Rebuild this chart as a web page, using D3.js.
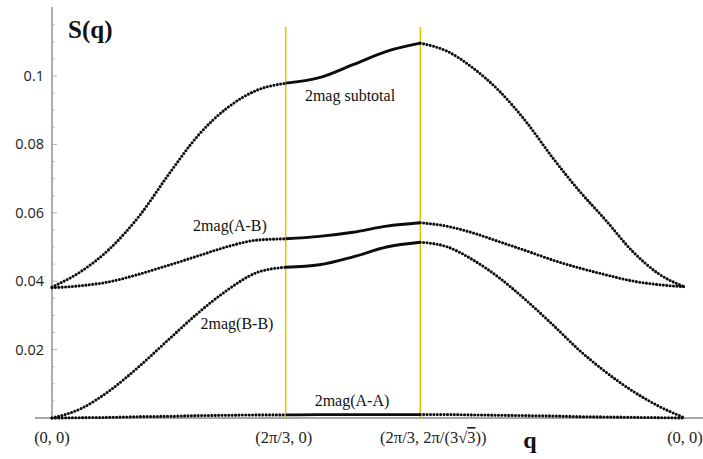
<!DOCTYPE html>
<html>
<head>
<meta charset="utf-8">
<script src="https://cdn.jsdelivr.net/npm/d3@7"></script>
<style>
  html, body { margin: 0; padding: 0; background: #fff; }
  svg { display: block; }
</style>
</head>
<body>
<svg id="chart" width="703" height="459"></svg>
<script>
// Path through the Brillouin zone: Γ(0,0) → M(2π/3,0) → K(2π/3, 2π/(3√3)) → Γ(0,0)
const pathNodes = [0, 2.0944, 3.3036, 5.722];
const nodeLabels = ["(0, 0)", "(2π/3, 0)", "(2π/3, 2π/(3√3))", "(0, 0)"];

// Sample positions along each leg of the path
const qGM = [0, 0.262, 0.524, 0.785, 1.047, 1.309, 1.571, 1.833, 2.0944];
const qMK = [2.0944, 2.397, 2.699, 3.001, 3.3036];
const qKG = [3.3036, 3.545, 3.787, 4.029, 4.271, 4.513, 4.754, 4.996, 5.238, 5.480, 5.722];

// Structure factor S(q), 2mag subtotal
const subGM = [0.0383, 0.0429, 0.0497, 0.0592, 0.0713, 0.0826, 0.0907, 0.0958, 0.0979];
const subMK = [0.0979, 0.0995, 0.1033, 0.1072, 0.1096];
const subKG = [0.1096, 0.1073, 0.1023, 0.0955, 0.0866, 0.0761, 0.0665, 0.0579, 0.0489, 0.0422, 0.0383];

// 2mag(A-B)
const abGM = [0.0381, 0.0387, 0.0399, 0.0421, 0.0447, 0.0474, 0.0501, 0.0520, 0.0524];
const abMK = [0.0524, 0.0531, 0.0543, 0.0561, 0.0571];
const abKG = [0.0571, 0.0561, 0.0541, 0.0515, 0.0489, 0.0462, 0.0439, 0.0419, 0.0401, 0.0390, 0.0384];

// 2mag(B-B)
const bbGM = [0, 0.0028, 0.0082, 0.0152, 0.0230, 0.0307, 0.0374, 0.0425, 0.0441];
const bbMK = [0.0441, 0.0448, 0.0471, 0.0500, 0.0514];
const bbKG = [0.0514, 0.0501, 0.0462, 0.0409, 0.0344, 0.0273, 0.0199, 0.0135, 0.0080, 0.0035, 0];

// 2mag(A-A)
const aaGM = [0, 0.0001, 0.0002, 0.0004, 0.0005, 0.0007, 0.0008, 0.0009, 0.0009];
const aaMK = [0.0009, 0.0010, 0.0010, 0.0010, 0.0010];
const aaKG = [0.0010, 0.0010, 0.0009, 0.0008, 0.0007, 0.0006, 0.0004, 0.0003, 0.0002, 0.0001, 0];

const yTicks = [0.02, 0.04, 0.06, 0.08, 0.1];
const yTickLabels = ["0.02", "0.04", "0.06", "0.08", "0.1"];

const svg = d3.select("#chart");

const x = d3.scaleLinear().domain(pathNodes).range([52, 285.7, 420.3, 685]);
const y = d3.scaleLinear().domain([0, 0.1]).range([418, 76]);

const axisColor = "#8a8a8a";

// Minor ticks on the y axis
const minor = d3.range(0.005, 0.1201, 0.005).filter(v => Math.abs(v / 0.02 - Math.round(v / 0.02)) > 1e-6);
svg.append("g").selectAll("line").data(minor).join("line")
  .attr("x1", 52).attr("x2", 55)
  .attr("y1", d => y(d)).attr("y2", d => y(d))
  .attr("stroke", "#c4c4c4").attr("stroke-width", 1);

// Major ticks and labels
const yg = svg.append("g");
yg.selectAll("line").data(yTicks).join("line")
  .attr("x1", 52).attr("x2", 57)
  .attr("y1", d => y(d)).attr("y2", d => y(d))
  .attr("stroke", "#b0b0b0").attr("stroke-width", 1);
yg.selectAll("text").data(yTicks).join("text")
  .attr("x", 44).attr("y", d => y(d) + 5)
  .attr("text-anchor", "end")
  .attr("font-family", "'Open Sans', 'DejaVu Sans', sans-serif")
  .attr("font-size", 14.5)
  .attr("fill", "#222")
  .text((d, i) => yTickLabels[i]);

// Axis lines
svg.append("line").attr("x1", 52).attr("x2", 52).attr("y1", 7).attr("y2", y(0))
  .attr("stroke", axisColor).attr("stroke-width", 1.4);
svg.append("line").attr("x1", 35).attr("x2", 703).attr("y1", y(0)).attr("y2", y(0))
  .attr("stroke", axisColor).attr("stroke-width", 1.4);

// Vertical markers at M and K
svg.append("g").selectAll("line").data(pathNodes.slice(1, 3)).join("line")
  .attr("x1", d => x(d)).attr("x2", d => x(d))
  .attr("y1", 27).attr("y2", y(0))
  .attr("stroke", "#d6cf00").attr("stroke-width", 1.6);

// Curves: dotted on Γ–M and K–Γ, solid on M–K
const line = d3.line().x(d => x(d[0])).y(d => y(d[1])).curve(d3.curveMonotoneX);
const zipQ = (qs, vs) => qs.map((q, i) => [q, vs[i]]);

const series = [
  [subGM, subMK, subKG],
  [abGM, abMK, abKG],
  [bbGM, bbMK, bbKG],
  [aaGM, aaMK, aaKG]
];

const curves = svg.append("g");
series.forEach(([gm, mk, kg]) => {
  [[qGM, gm], [qKG, kg]].forEach(([qs, vs]) => {
    curves.append("path")
      .attr("d", line(zipQ(qs, vs)))
      .attr("fill", "none")
      .attr("stroke", "#0d0d0d")
      .attr("stroke-width", 3.1)
      .attr("stroke-linecap", "round")
      .attr("stroke-dasharray", "0 3.4");
  });
  curves.append("path")
    .attr("d", line(zipQ(qMK, mk)))
    .attr("fill", "none")
    .attr("stroke", "#0d0d0d")
    .attr("stroke-width", 2.9);
});

// Curve labels
const serif = "'Liberation Serif', 'Times New Roman', serif";
const labels = [
  { t: "2mag subtotal", x: 350, y: 101 },
  { t: "2mag(A-B)", x: 230, y: 231 },
  { t: "2mag(B-B)", x: 237, y: 329 },
  { t: "2mag(A-A)", x: 352, y: 406 }
];
svg.append("g").selectAll("text").data(labels).join("text")
  .attr("x", d => d.x).attr("y", d => d.y)
  .attr("text-anchor", "middle")
  .attr("font-family", serif).attr("font-size", 16)
  .attr("fill", "#111")
  .text(d => d.t);

// x-axis node labels
const xl = svg.append("g")
  .attr("font-family", serif).attr("font-size", 16.5).attr("fill", "#222")
  .attr("text-anchor", "middle");
const nodeOffsets = [0, -2, 13, 0];
pathNodes.forEach((q, i) => {
  const t = xl.append("text").attr("x", x(q) + nodeOffsets[i]).attr("y", 443);
  if (i === 2) {
    t.append("tspan").text("(2π/3, 2π/(3√");
    t.append("tspan").style("text-decoration", "overline").text("3");
    t.append("tspan").text("))");
  } else {
    t.text(nodeLabels[i]);
  }
});

// Axis titles
svg.append("text").attr("x", 530).attr("y", 448)
  .attr("text-anchor", "middle")
  .attr("font-family", serif).attr("font-weight", "bold").attr("font-size", 24)
  .attr("fill", "#111").text("q");
svg.append("text").attr("x", 68).attr("y", 38)
  .attr("font-family", serif).attr("font-weight", "bold").attr("font-size", 25)
  .attr("fill", "#111").text("S(q)");
</script>
</body>
</html>
